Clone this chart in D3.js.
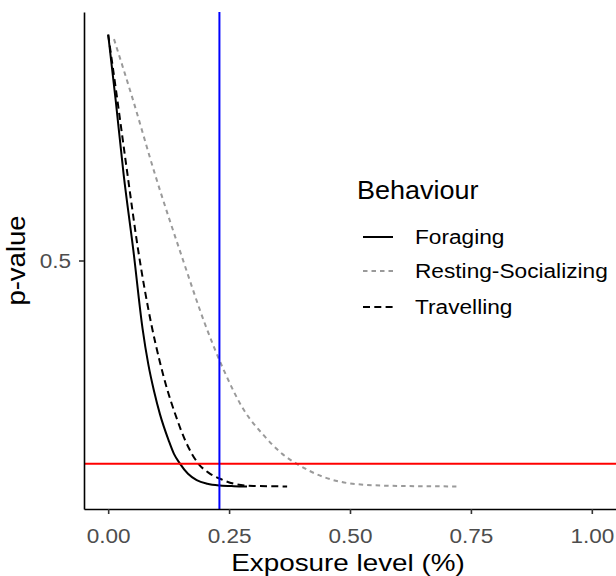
<!DOCTYPE html>
<html>
<head>
<meta charset="utf-8">
<script src="https://cdn.jsdelivr.net/npm/d3@7"></script>
<style>
  html, body { margin: 0; padding: 0; background: #fff; }
  svg { display: block; font-family: "Liberation Sans", Arial, sans-serif; }
</style>
</head>
<body>
<svg id="chart" width="616" height="576"></svg>
<script>
// ---- Data ----
const behaviours = ["Foraging", "Resting-Socializing", "Travelling"];

const foragingX = [0, 0.0155, 0.032, 0.052, 0.071, 0.083, 0.095, 0.107, 0.125, 0.136, 0.148, 0.165, 0.183, 0.205, 0.231, 0.26, 0.287];
const foragingY = [1, 0.855, 0.69, 0.523, 0.35, 0.27, 0.21, 0.16, 0.102, 0.072, 0.051, 0.028, 0.014, 0.006, 0.002, 0.0005, 0];

const restingX = [0.012, 0.05, 0.097, 0.155, 0.2, 0.24, 0.28, 0.32, 0.36, 0.39, 0.445, 0.514, 0.6, 0.72];
const restingY = [0.99, 0.86, 0.69, 0.5, 0.36, 0.255, 0.17, 0.115, 0.072, 0.05, 0.021, 0.005, 0.001, 0];

const travellingX = [0, 0.019, 0.04, 0.062, 0.089, 0.107, 0.122, 0.138, 0.16, 0.186, 0.208, 0.231, 0.26, 0.3, 0.37];
const travellingY = [1, 0.855, 0.69, 0.523, 0.36, 0.275, 0.215, 0.162, 0.1, 0.051, 0.03, 0.017, 0.006, 0.001, 0];

const thresholdP = 0.05;      // red horizontal line
const exposureMark = 0.23;    // blue vertical line

const xTicks = [0, 0.25, 0.5, 0.75, 1.0];
const yTicks = [0.5];

const xTitle = "Exposure level (%)";
const yTitle = "p-value";
const legendTitle = "Behaviour";

(function () {
  const zip = (xs, ys) => xs.map((v, i) => ({ x: v, y: ys[i] }));
  const series = [
    { name: behaviours[0], pts: zip(foragingX, foragingY),     color: "#000000", dash: null,    width: 2 },
    { name: behaviours[1], pts: zip(restingX, restingY),       color: "#9A9A9A", dash: "4.5,4", width: 2 },
    { name: behaviours[2], pts: zip(travellingX, travellingY), color: "#000000", dash: "7,4.3", width: 2 }
  ];

  const svg = d3.select("#chart");
  const pLeft = 84, pRight = 616, pTop = 12, pBottom = 509;
  const stretch = 1.08;   // reference glyphs are slightly wider than Liberation Sans

  const x = d3.scaleLinear().domain([-0.05, 1.05]).range([pLeft, pRight]);
  const y = d3.scaleLinear().domain([-0.05, 1.05]).range([pBottom, pTop]);

  const tickColor = "#4D4D4D";

  const line = d3.line().x(d => x(d.x)).y(d => y(d.y)).curve(d3.curveMonotoneX);
  const plot = svg.append("g");
  series.forEach(s => {
    plot.append("path")
      .datum(s.pts)
      .attr("d", line)
      .attr("fill", "none")
      .attr("stroke", s.color)
      .attr("stroke-width", s.width)
      .attr("stroke-dasharray", s.dash)
      .attr("stroke-linejoin", "round");
  });

  plot.append("line")
    .attr("x1", pLeft).attr("x2", pRight)
    .attr("y1", y(thresholdP)).attr("y2", y(thresholdP))
    .attr("stroke", "#FF0000").attr("stroke-width", 2);
  plot.append("line")
    .attr("x1", x(exposureMark)).attr("x2", x(exposureMark))
    .attr("y1", pTop).attr("y2", pBottom)
    .attr("stroke", "#0000FF").attr("stroke-width", 2);

  const xAxis = svg.append("g")
    .attr("transform", `translate(0,${pBottom})`)
    .call(d3.axisBottom(x).tickValues(xTicks).tickFormat(d3.format(".2f")).tickSize(5).tickPadding(14.5).tickSizeOuter(0));
  const yAxis = svg.append("g")
    .attr("transform", `translate(${pLeft},0)`)
    .call(d3.axisLeft(y).tickValues(yTicks).tickFormat(d3.format(".1f")).tickSize(5).tickPadding(8).tickSizeOuter(0));

  [xAxis, yAxis].forEach(a => {
    a.select(".domain").attr("stroke", "#000").attr("stroke-width", 1.6);
    a.selectAll(".tick line").attr("stroke", "#333").attr("stroke-width", 1.6);
    a.selectAll(".tick text").attr("fill", tickColor).attr("font-size", 20.5)
      .attr("font-family", "'Liberation Sans', Arial, sans-serif");
  });
  xAxis.selectAll(".tick text").attr("transform", `scale(1.1,1)`);
  yAxis.selectAll(".tick text").attr("x", -13 / 1.1).attr("transform", `scale(1.1,1)`);

  svg.append("text")
    .attr("transform", `translate(${(pLeft + pRight) / 2 - 2},570.5) scale(1.16,1)`)
    .attr("text-anchor", "middle").attr("font-size", 24).attr("fill", "#000")
    .text(xTitle);
  svg.append("text")
    .attr("transform", `translate(25,${y(0.5)}) rotate(-90) scale(1.08,1)`)
    .attr("text-anchor", "middle").attr("font-size", 25.5).attr("fill", "#000")
    .text(yTitle);

  const lg = svg.append("g").attr("transform", "translate(357,0)");
  lg.append("text").attr("transform", `translate(0,199) scale(${stretch},1)`)
    .attr("font-size", 25).attr("fill", "#000").text(legendTitle);
  const keyY = [237, 271, 307];
  series.forEach((s, i) => {
    lg.append("line")
      .attr("x1", 6).attr("x2", 36)
      .attr("y1", keyY[i]).attr("y2", keyY[i])
      .attr("stroke", s.color).attr("stroke-width", s.width)
      .attr("stroke-dasharray", s.dash);
    lg.append("text")
      .attr("transform", `translate(58,${keyY[i] + 7}) scale(${stretch},1)`)
      .attr("font-size", 21).attr("fill", "#000")
      .text(s.name);
  });
})();
</script>
</body>
</html>
